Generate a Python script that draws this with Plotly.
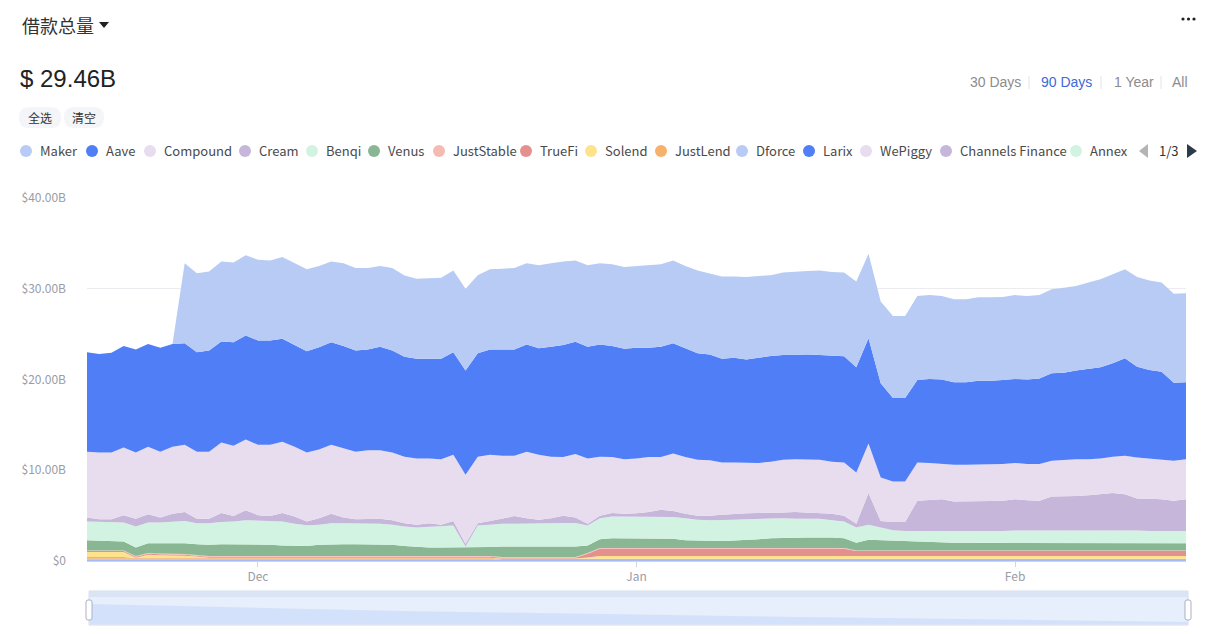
import plotly.graph_objects as go
import pandas as pd

# 90 days of daily borrow totals (in $B)
dates = pd.date_range("2021-11-17", "2022-02-15", freq="D")

maker = [0, 0, 0, 0, 0, 0, 0, 0, 8.8, 8.7, 8.7, 8.8, 8.8, 8.85, 8.9, 8.8, 9.0, 9.0, 9.05, 8.95,
         8.9, 9.1, 9.1, 9.0, 8.9, 9.1, 8.95, 8.8, 8.85, 8.9, 9.0, 9.0, 8.6, 8.85, 8.9, 9.0, 8.95, 9.15,
         9.2, 9.2, 8.95, 9.0, 8.95, 9.0, 9.0, 9.0, 9.1, 9.1, 9.1, 9.05, 9.1, 8.95, 9.05, 8.95, 9.1, 9.0,
         8.9, 9.1, 9.15, 9.2, 9.3, 9.25, 9.25, 9.45, 9.3, 9.0, 9.05, 9.05, 9.25, 9.25, 9.2, 9.15, 9.15,
         9.2, 9.2, 9.15, 9.25, 9.2, 9.2, 9.25, 9.35, 9.3, 9.5, 9.7, 9.8, 9.8, 9.9, 9.85, 9.85, 9.8, 9.8]
aave = [10.95, 10.85, 11.0, 11.2, 11.35, 11.3, 11.45, 11.3, 11.2, 10.95, 11.15, 11.15, 11.4, 11.45,
        11.5, 11.5, 11.35, 11.2, 11.15, 11.25, 11.3, 11.25, 11.15, 11.1, 11.4, 11.25, 11.0, 11.0, 11.0,
        11.1, 11.3, 11.5, 11.4, 11.6, 11.7, 11.7, 11.8, 11.75, 12.1, 12.35, 12.35, 12.3, 12.35, 12.25,
        12.2, 12.2, 12.05, 12.15, 12.15, 12.0, 11.75, 11.65, 11.45, 11.55, 11.4, 11.6, 11.65, 11.55,
        11.55, 11.55, 11.55, 11.65, 11.7, 11.6, 11.6, 10.4, 9.2, 9.2, 9.1, 9.25, 9.3, 9.1, 9.1, 9.25,
        9.2, 9.25, 9.25, 9.3, 9.4, 9.65, 9.6, 9.8, 10.0, 10.05, 10.3, 10.75, 10.0, 9.75, 9.65, 8.6, 8.5]
compound = [7.25, 7.35, 7.35, 7.45, 7.3, 7.45, 7.25, 7.4, 7.4, 7.4, 7.4, 7.75, 7.75, 7.8, 7.75, 7.85,
            7.85, 7.7, 7.6, 7.6, 7.6, 7.65, 7.45, 7.55, 7.55, 7.45, 7.35, 7.3, 7.15, 7.2, 7.3, 7.6, 7.35,
            7.3, 6.9, 6.65, 7.35, 7.15, 6.8, 6.45, 7.0, 7.2, 6.5, 6.15, 6.0, 6.05, 6.05, 5.8, 6.35, 6.25,
            6.15, 6.1, 5.75, 5.65, 5.55, 5.5, 5.65, 5.8, 5.8, 5.85, 5.85, 5.75, 5.85, 5.65, 5.45, 4.8,
            4.45, 4.45, 4.2, 4.1, 3.9, 4.05, 4.05, 4.0, 4.05, 4.05, 4.0, 4.0, 4.05, 3.95, 4.05, 4.05,
            3.95, 3.95, 4.0, 4.25, 4.5, 4.45, 4.4, 4.4, 4.4]
cream = [0.45, 0.3, 0.3, 0.8, 0.85, 0.9, 0.55, 0.9, 1.0, 0.5, 0.5, 1.0, 0.6, 1.1, 0.6, 0.55, 0.95, 0.8,
         0.4, 0.7, 1.05, 0.65, 0.45, 0.55, 0.55, 0.5, 0.35, 0.3, 0.4, 0.2, 0.5, 0.3, 0.25, 0.4, 0.6,
         0.85, 0.6, 0.45, 0.55, 0.8, 0.6, 0.2, 0.3, 0.4, 0.3, 0.35, 0.5, 0.75, 0.65, 0.5, 0.45, 0.5,
         0.6, 0.65, 0.65, 0.65, 0.6, 0.65, 0.75, 0.7, 0.65, 0.7, 0.65, 0.4, 3.5, 0.7, 0.9, 1.0, 3.35,
         3.45, 3.55, 3.3, 3.3, 3.3, 3.3, 3.35, 3.45, 3.35, 3.25, 3.7, 3.75, 3.8, 3.85, 3.95, 4.1, 4.0,
         3.55, 3.55, 3.5, 3.35, 3.5]
benqi = [2.05, 2.05, 2.1, 2.1, 2.3, 2.3, 2.3, 2.35, 2.45, 2.3, 2.35, 2.45, 2.5, 2.65, 2.65, 2.6, 2.65,
         2.45, 2.3, 2.2, 2.3, 2.3, 2.3, 2.25, 2.25, 2.2, 2.15, 2.15, 2.25, 2.3, 2.4, 0.1, 2.4, 2.45,
         2.5, 2.5, 2.5, 2.5, 2.55, 2.6, 2.6, 2.2, 2.3, 2.4, 2.4, 2.4, 2.4, 2.4, 2.4, 2.4, 2.3, 2.3, 2.3,
         2.3, 2.3, 2.25, 2.2, 2.2, 2.1, 2.05, 2.05, 1.9, 1.85, 1.7, 1.65, 1.4, 1.15, 1.1, 1.2, 1.2,
         1.25, 1.25, 1.25, 1.3, 1.35, 1.35, 1.4, 1.4, 1.45, 1.45, 1.4, 1.4, 1.45, 1.45, 1.45, 1.4, 1.4,
         1.35, 1.35, 1.35, 1.35]
venus = [1.13, 1.08, 1.03, 0.98, 0.96, 1.08, 1.13, 1.15, 1.18, 1.18, 1.25, 1.3, 1.3, 1.3, 1.25, 1.25,
         1.15, 1.1, 1.1, 1.25, 1.3, 1.3, 1.3, 1.3, 1.3, 1.25, 1.1, 1.0, 0.95, 0.95, 0.95, 0.95, 0.95,
         1.0, 1.15, 1.15, 1.15, 1.15, 1.15, 1.15, 1.15, 0.83, 0.98, 1.08, 1.08, 1.08, 1.08, 1.08, 1.03,
         0.88, 0.83, 0.78, 0.78, 0.83, 0.88, 0.98, 1.08, 1.08, 1.13, 1.18, 1.18, 1.18, 1.08, 0.83,
         1.18, 1.13, 1.08, 1.03, 0.93, 0.88, 0.83, 0.83, 0.83, 0.83, 0.78, 0.78, 0.78, 0.78, 0.78,
         0.78, 0.78, 0.78, 0.78, 0.78, 0.78, 0.78, 0.78, 0.78, 0.78, 0.78, 0.78]
# thin layers near the bottom, mostly flat over stretches of days
juststable = [0.08] * 91
truefi = [0.1] * 41 + [0.4] + [0.8] * 21 + [0.55] * 28
solend = [0.55] * 4 + [0.02, 0.35, 0.3, 0.28, 0.25, 0.15] + [0.03] * 31 + [0.15] + [0.3] * 49
justlend = [0.2] * 4 + [0.1] * 30 + [0.12] * 57
dforce = [0.15] * 34 + [0.03] * 57
larix = [0.05] * 91
wepiggy = [0.02] * 91
channels = [0.01] * 91
annex = [0.01] * 91

names = ["Maker", "Aave", "Compound", "Cream", "Benqi", "Venus", "JustStable", "TrueFi", "Solend",
         "JustLend", "Dforce", "Larix", "WePiggy", "Channels Finance", "Annex"]
series = [maker, aave, compound, cream, benqi, venus, juststable, truefi, solend, justlend,
          dforce, larix, wepiggy, channels, annex]
colors = ["#b7cbf5", "#4f7ef7", "#e7ddee", "#c6b7da", "#d3f3e2", "#89b693", "#f5bbb3", "#e3908f",
          "#fde38c", "#f6b26b", "#b7cbf5", "#4f7ef7", "#e7ddee", "#c6b7da", "#d3f3e2"]

y_ticks = [0, 10, 20, 30, 40]
y_labels = ["$0", "$10.00B", "$20.00B", "$30.00B", "$40.00B"]

for s in series:
    assert len(s) == len(dates), len(s)

FONT = "Noto Sans CJK SC, Noto Sans, sans-serif"
LAT = "Liberation Sans, Arial, sans-serif"

# the page body has an 8px margin, so the figure sits at (8, 8) in the window
OFF = 8
FIG_W, FIG_H = 1221 - 2 * OFF, 634 - 2 * OFF
# plot area in window pixels
L, R, T, B = 87, 1186, 198, 561


def X(p):
    return (p - L) / (R - L)


def Y(p):
    return (B - p) / (B - T)


def rounded(x0, y0, x1, y1, r):
    pts = [("M", x0 + r, y0), ("L", x1 - r, y0), ("Q", x1, y0, x1, y0 + r), ("L", x1, y1 - r),
           ("Q", x1, y1, x1 - r, y1), ("L", x0 + r, y1), ("Q", x0, y1, x0, y1 - r),
           ("L", x0, y0 + r), ("Q", x0, y0, x0 + r, y0)]
    out = []
    for p in pts:
        cmd, coords = p[0], p[1:]
        xy = []
        for k in range(0, len(coords), 2):
            xy.append(f"{X(coords[k]):.5f},{Y(coords[k + 1]):.5f}")
        out.append(cmd + " " + " ".join(xy))
    return " ".join(out) + " Z"


def poly(points):
    return "M " + " L ".join(f"{X(a):.5f},{Y(b):.5f}" for a, b in points) + " Z"


fig = go.Figure()

# first legend entry sits on top of the stack, so add traces bottom-up
for name, vals, col in reversed(list(zip(names, series, colors))):
    fig.add_trace(go.Scatter(
        x=dates, y=vals, name=name, mode="lines", stackgroup="borrow",
        line=dict(width=0, color=col), fillcolor=col,
        hovertemplate="%{y:.2f}B<extra>" + name + "</extra>",
    ))

shapes = []
annotations = []


def text(x, y, s, size=13, color="#4a4a4a", family=FONT, anchor="left"):
    annotations.append(dict(x=X(x), y=Y(y), xref="paper", yref="paper", text=s, showarrow=False,
                            xanchor=anchor, yanchor="middle",
                            font=dict(size=size, color=color, family=family)))


# header
text(20, 25, "借款总量", size=18, color="#333333")
shapes.append(dict(type="path", path=poly([(99, 22), (109, 22), (104, 28)]),
                   fillcolor="#222222", line=dict(width=0), xref="paper", yref="paper"))
text(18, 78, "$ 29.46B", size=24, color="#222222", family=LAT)
for dx in (1183, 1188.5, 1194):
    shapes.append(dict(type="circle", x0=X(dx - 1.6), x1=X(dx + 1.6), y0=Y(19 + 1.6), y1=Y(19 - 1.6),
                       fillcolor="#222222", line=dict(width=0), xref="paper", yref="paper"))

# select all / clear pills
for x0, x1, label in [(19, 61, "全选"), (64, 104, "清空")]:
    shapes.append(dict(type="path", path=rounded(x0, 107, x1, 128, 10), fillcolor="#f3f5f8",
                       line=dict(width=0), xref="paper", yref="paper"))
    text((x0 + x1) / 2, 117.5, label, size=12, color="#333333", anchor="center")

# period switch
periods = [("30 Days", 968, "#8c8c8c"), ("90 Days", 1039, "#3d6ad6"),
           ("1 Year", 1112, "#8c8c8c"), ("All", 1170, "#8c8c8c")]
for label, x0, col in periods:
    text(x0, 82, label, size=14, color=col, family=LAT)
for sx in (1029, 1101, 1161):
    shapes.append(dict(type="line", x0=X(sx), x1=X(sx), y0=Y(76), y1=Y(89),
                       line=dict(color="#e4e4e4", width=1), xref="paper", yref="paper"))

# hand-drawn legend row (round markers, tight spacing, pager)
legend_x = [26, 92, 150, 245, 312, 374, 439, 526, 591, 661, 742, 809, 866, 946, 1076]
for cx, name, col in zip(legend_x, names, colors):
    shapes.append(dict(type="circle", x0=X(cx - 6), x1=X(cx + 6), y0=Y(151 + 6), y1=Y(151 - 6),
                       fillcolor=col, line=dict(width=0), xref="paper", yref="paper"))
    text(cx + 12, 151, name, size=13, color="#4a4a4a")
shapes.append(dict(type="path", path=poly([(1139, 151), (1148, 144), (1148, 158)]),
                   fillcolor="#b4b4b4", line=dict(width=0), xref="paper", yref="paper"))
text(1157, 151, "1/3", size=13, color="#333333")
shapes.append(dict(type="path", path=poly([(1187, 144), (1197, 151), (1187, 158)]),
                   fillcolor="#2c3a4b", line=dict(width=0), xref="paper", yref="paper"))

# data zoom strip under the chart
shapes.append(dict(type="rect", x0=X(89), x1=X(1188), y0=Y(625), y1=Y(591), fillcolor="#e7eefc",
                   line=dict(color="#d3dcef", width=1), xref="paper", yref="paper", layer="above"))
shapes.append(dict(type="rect", x0=X(89), x1=X(1188), y0=Y(597), y1=Y(591), fillcolor="#dbe4f4",
                   line=dict(width=0), xref="paper", yref="paper"))
shapes.append(dict(type="path", path=poly([(90, 604), (400, 611), (800, 617), (1187, 622),
                                           (1187, 624), (90, 624)]),
                   fillcolor="#d4e1fa", line=dict(width=0), xref="paper", yref="paper"))
for hx in (89, 1188):
    shapes.append(dict(type="path", path=rounded(hx - 3, 600, hx + 3, 620, 2), fillcolor="#ffffff",
                       line=dict(color="#a9b2c3", width=1), xref="paper", yref="paper"))

fig.update_layout(
    width=FIG_W, height=FIG_H,
    margin=dict(l=L - OFF, r=OFF + FIG_W - R, t=T - OFF, b=OFF + FIG_H - B),
    paper_bgcolor="white", plot_bgcolor="white",
    showlegend=False, hovermode="x unified",
    font=dict(family=FONT, size=12, color="#9a9ca8"),
    shapes=shapes, annotations=annotations,
    xaxis=dict(
        type="date", range=[dates[0], dates[-1]], tickformat="%b", dtick="M1", tick0="2021-12-01",
        showgrid=False, showline=True, linecolor="#d3d5dc", linewidth=1,
        ticks="outside", ticklen=5, tickcolor="#d3d5dc",
        tickfont=dict(size=12, color="#9a9ca8"),
    ),
    yaxis=dict(
        range=[0, 40], tickvals=y_ticks, ticktext=y_labels,
        showgrid=True, gridcolor="#ececf0", zeroline=False, showline=False,
        ticklabelstandoff=20, tickfont=dict(size=12, color="#9a9ca8"),
    ),
)

fig.write_html("out.html", config={"displayModeBar": False})
